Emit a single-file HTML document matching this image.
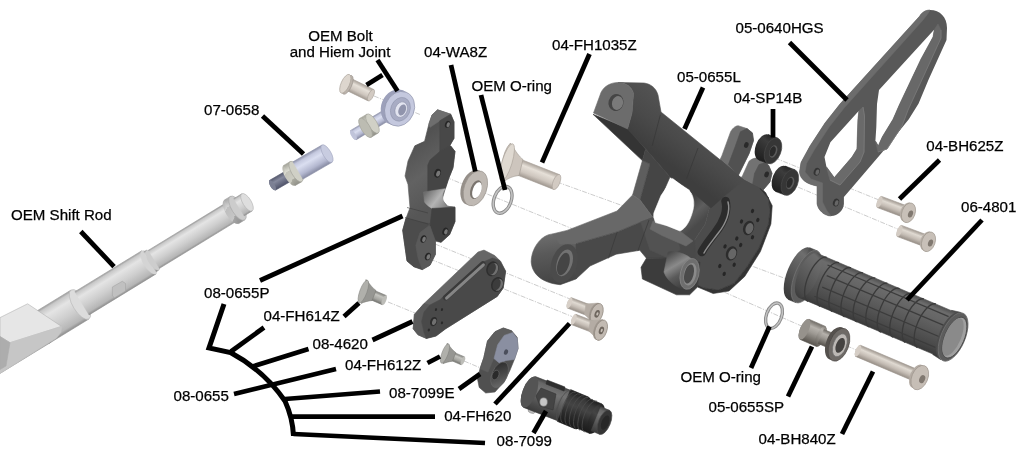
<!DOCTYPE html>
<html><head><meta charset="utf-8"><title>Rearset exploded diagram</title>
<style>
html,body{margin:0;padding:0;background:#fff;}
body{width:1024px;height:458px;overflow:hidden;}
svg{display:block;will-change:transform;}
svg text{font-family:"Liberation Sans",sans-serif;fill:#000;stroke:#000;stroke-width:0.25px;}
</style></head><body>
<svg width="1024" height="458" viewBox="0 0 1024 458">
<defs>
<linearGradient id="g1" gradientUnits="userSpaceOnUse" x1="-28.9" y1="351.2" x2="-11.1" y2="380.2"><stop offset="0" stop-color="#9a9a9a"/><stop offset="0.07" stop-color="#c8c8c8"/><stop offset="0.25" stop-color="#e4e4e4"/><stop offset="0.6" stop-color="#cecece"/><stop offset="0.9" stop-color="#b6b6b6"/><stop offset="1" stop-color="#8e8e8e"/></linearGradient>
<linearGradient id="g2" gradientUnits="userSpaceOnUse" x1="31.1" y1="314.5" x2="48.9" y2="343.5"><stop offset="0" stop-color="#9a9a9a"/><stop offset="0.07" stop-color="#c8c8c8"/><stop offset="0.25" stop-color="#e4e4e4"/><stop offset="0.6" stop-color="#cecece"/><stop offset="0.9" stop-color="#b6b6b6"/><stop offset="1" stop-color="#8e8e8e"/></linearGradient>
<linearGradient id="g3" gradientUnits="userSpaceOnUse" x1="74.9" y1="291.7" x2="89.1" y2="314.9"><stop offset="0" stop-color="#9a9a9a"/><stop offset="0.07" stop-color="#c8c8c8"/><stop offset="0.25" stop-color="#e4e4e4"/><stop offset="0.6" stop-color="#cecece"/><stop offset="0.9" stop-color="#b6b6b6"/><stop offset="1" stop-color="#8e8e8e"/></linearGradient>
<linearGradient id="g4" gradientUnits="userSpaceOnUse" x1="143.9" y1="251.8" x2="156.1" y2="271.6"><stop offset="0" stop-color="#9a9a9a"/><stop offset="0.07" stop-color="#c8c8c8"/><stop offset="0.25" stop-color="#e4e4e4"/><stop offset="0.6" stop-color="#cecece"/><stop offset="0.9" stop-color="#b6b6b6"/><stop offset="1" stop-color="#8e8e8e"/></linearGradient>
<linearGradient id="g5" gradientUnits="userSpaceOnUse" x1="148.5" y1="250.2" x2="159.5" y2="268.3"><stop offset="0" stop-color="#9a9a9a"/><stop offset="0.07" stop-color="#c8c8c8"/><stop offset="0.25" stop-color="#e4e4e4"/><stop offset="0.6" stop-color="#cecece"/><stop offset="0.9" stop-color="#b6b6b6"/><stop offset="1" stop-color="#8e8e8e"/></linearGradient>
<linearGradient id="g6" gradientUnits="userSpaceOnUse" x1="224.3" y1="200.1" x2="238.7" y2="223.6"><stop offset="0" stop-color="#a8a8a8"/><stop offset="0.28" stop-color="#d2d2d2"/><stop offset="0.3" stop-color="#bebebe"/><stop offset="0.68" stop-color="#c6c6c6"/><stop offset="0.7" stop-color="#a4a4a4"/><stop offset="1" stop-color="#939393"/></linearGradient>
<linearGradient id="g7" gradientUnits="userSpaceOnUse" x1="233.8" y1="198.7" x2="244.2" y2="215.8"><stop offset="0" stop-color="#9a9a9a"/><stop offset="0.07" stop-color="#c8c8c8"/><stop offset="0.25" stop-color="#e4e4e4"/><stop offset="0.6" stop-color="#cecece"/><stop offset="0.9" stop-color="#b6b6b6"/><stop offset="1" stop-color="#8e8e8e"/></linearGradient>
<linearGradient id="g8" gradientUnits="userSpaceOnUse" x1="269.6" y1="180.3" x2="275.4" y2="190.2"><stop offset="0" stop-color="#565a6e"/><stop offset="0.35" stop-color="#85899d"/><stop offset="1" stop-color="#50546a"/></linearGradient>
<linearGradient id="g9" gradientUnits="userSpaceOnUse" x1="283.7" y1="165.4" x2="295.3" y2="185.4"><stop offset="0" stop-color="#a4a49a"/><stop offset="0.3" stop-color="#dcdcd2"/><stop offset="0.33" stop-color="#c4c4ba"/><stop offset="0.7" stop-color="#ccccc2"/><stop offset="0.73" stop-color="#aaaaa0"/><stop offset="1" stop-color="#92928a"/></linearGradient>
<linearGradient id="g10" gradientUnits="userSpaceOnUse" x1="293.0" y1="161.8" x2="303.0" y2="179.1"><stop offset="0" stop-color="#8c90a8"/><stop offset="0.15" stop-color="#c4c8de"/><stop offset="0.38" stop-color="#dadef0"/><stop offset="0.75" stop-color="#b4b8d0"/><stop offset="1" stop-color="#868aa2"/></linearGradient>
<linearGradient id="g11" gradientUnits="userSpaceOnUse" x1="352.8" y1="79.3" x2="347.2" y2="90.7"><stop offset="0" stop-color="#aaa29a"/><stop offset="0.3" stop-color="#e6e0d8"/><stop offset="0.7" stop-color="#cec6be"/><stop offset="1" stop-color="#a09890"/></linearGradient>
<linearGradient id="g12" gradientUnits="userSpaceOnUse" x1="350.7" y1="130.4" x2="356.3" y2="139.7"><stop offset="0" stop-color="#8c90a8"/><stop offset="0.15" stop-color="#c4c8de"/><stop offset="0.38" stop-color="#dadef0"/><stop offset="0.75" stop-color="#b4b8d0"/><stop offset="1" stop-color="#868aa2"/></linearGradient>
<linearGradient id="g13" gradientUnits="userSpaceOnUse" x1="370.0" y1="118.3" x2="376.0" y2="128.3"><stop offset="0" stop-color="#8c90a8"/><stop offset="0.15" stop-color="#c4c8de"/><stop offset="0.38" stop-color="#dadef0"/><stop offset="0.75" stop-color="#b4b8d0"/><stop offset="1" stop-color="#868aa2"/></linearGradient>
<linearGradient id="g14" gradientUnits="userSpaceOnUse" x1="359.8" y1="118.4" x2="371.2" y2="137.2"><stop offset="0" stop-color="#a4a49a"/><stop offset="0.3" stop-color="#dcdcd2"/><stop offset="0.33" stop-color="#c4c4ba"/><stop offset="0.7" stop-color="#ccccc2"/><stop offset="0.73" stop-color="#aaaaa0"/><stop offset="1" stop-color="#92928a"/></linearGradient>
<linearGradient id="g15" gradientUnits="userSpaceOnUse" x1="404.0" y1="150.0" x2="440.0" y2="200.0"><stop offset="0" stop-color="#525252"/><stop offset="0.5" stop-color="#626262"/><stop offset="1" stop-color="#565656"/></linearGradient>
<linearGradient id="g16" gradientUnits="userSpaceOnUse" x1="426.0" y1="192.0" x2="452.0" y2="212.0"><stop offset="0" stop-color="#6e6e6e"/><stop offset="0.4" stop-color="#b4b4b4"/><stop offset="0.7" stop-color="#8c8c8c"/><stop offset="1" stop-color="#5a5a5a"/></linearGradient>
<linearGradient id="g17" gradientUnits="userSpaceOnUse" x1="521.9" y1="159.8" x2="516.1" y2="174.6"><stop offset="0" stop-color="#aaa29a"/><stop offset="0.3" stop-color="#e6e0d8"/><stop offset="0.7" stop-color="#cec6be"/><stop offset="1" stop-color="#a09890"/></linearGradient>
<linearGradient id="g18" gradientUnits="userSpaceOnUse" x1="650.0" y1="150.0" x2="680.0" y2="110.0"><stop offset="0" stop-color="#3e3e3e"/><stop offset="0.5" stop-color="#4a4a4a"/><stop offset="1" stop-color="#525252"/></linearGradient>
<linearGradient id="g19" gradientUnits="userSpaceOnUse" x1="545.0" y1="236.0" x2="552.0" y2="284.0"><stop offset="0" stop-color="#6c6c6c"/><stop offset="0.35" stop-color="#5a5a5a"/><stop offset="1" stop-color="#444444"/></linearGradient>
<linearGradient id="g20" gradientUnits="userSpaceOnUse" x1="690.0" y1="195.0" x2="708.0" y2="215.0"><stop offset="0" stop-color="#3a3a3a"/><stop offset="0.6" stop-color="#5e5e5e"/><stop offset="1" stop-color="#4a4a4a"/></linearGradient>
<linearGradient id="g21" gradientUnits="userSpaceOnUse" x1="664.0" y1="256.0" x2="684.0" y2="290.0"><stop offset="0" stop-color="#4a4a4a"/><stop offset="0.35" stop-color="#8a8a8a"/><stop offset="0.6" stop-color="#5a5a5a"/><stop offset="1" stop-color="#3a3a3a"/></linearGradient>
<linearGradient id="g22" gradientUnits="userSpaceOnUse" x1="768.3" y1="134.6" x2="758.7" y2="160.0"><stop offset="0" stop-color="#262626"/><stop offset="0.25" stop-color="#3c3c3c"/><stop offset="0.6" stop-color="#2e2e2e"/><stop offset="1" stop-color="#1e1e1e"/></linearGradient>
<linearGradient id="g23" gradientUnits="userSpaceOnUse" x1="785.2" y1="166.1" x2="775.6" y2="191.5"><stop offset="0" stop-color="#262626"/><stop offset="0.25" stop-color="#3c3c3c"/><stop offset="0.6" stop-color="#2e2e2e"/><stop offset="1" stop-color="#1e1e1e"/></linearGradient>
<linearGradient id="g24" gradientUnits="userSpaceOnUse" x1="881.6" y1="196.4" x2="877.4" y2="207.6"><stop offset="0" stop-color="#a09890"/><stop offset="0.3" stop-color="#e0dad2"/><stop offset="0.65" stop-color="#c4bcb4"/><stop offset="1" stop-color="#968e86"/></linearGradient>
<linearGradient id="g25" gradientUnits="userSpaceOnUse" x1="901.6" y1="225.4" x2="897.4" y2="236.6"><stop offset="0" stop-color="#a09890"/><stop offset="0.3" stop-color="#e0dad2"/><stop offset="0.65" stop-color="#c4bcb4"/><stop offset="1" stop-color="#968e86"/></linearGradient>
<linearGradient id="g26" gradientUnits="userSpaceOnUse" x1="809.7" y1="247.7" x2="788.3" y2="299.5"><stop offset="0" stop-color="#4a4a4a"/><stop offset="0.2" stop-color="#6e6e6e"/><stop offset="0.5" stop-color="#5a5a5a"/><stop offset="1" stop-color="#383838"/></linearGradient>
<linearGradient id="g27" gradientUnits="userSpaceOnUse" x1="817.3" y1="253.4" x2="798.7" y2="297.4"><stop offset="0" stop-color="#4c4c4c"/><stop offset="0.1" stop-color="#6c6c6c"/><stop offset="0.28" stop-color="#666666"/><stop offset="0.6" stop-color="#565656"/><stop offset="0.85" stop-color="#484848"/><stop offset="1" stop-color="#3a3a3a"/></linearGradient>
<linearGradient id="g28" gradientUnits="userSpaceOnUse" x1="808.9" y1="319.2" x2="800.1" y2="339.4"><stop offset="0" stop-color="#716d67"/><stop offset="0.25" stop-color="#b6b2ac"/><stop offset="0.5" stop-color="#9e9a94"/><stop offset="1" stop-color="#57534d"/></linearGradient>
<linearGradient id="g29" gradientUnits="userSpaceOnUse" x1="824.0" y1="329.5" x2="818.0" y2="343.5"><stop offset="0" stop-color="#716d67"/><stop offset="0.25" stop-color="#b6b2ac"/><stop offset="0.5" stop-color="#9e9a94"/><stop offset="1" stop-color="#57534d"/></linearGradient>
<linearGradient id="g30" gradientUnits="userSpaceOnUse" x1="860.4" y1="345.2" x2="855.6" y2="356.4"><stop offset="0" stop-color="#a09890"/><stop offset="0.3" stop-color="#e0dad2"/><stop offset="0.65" stop-color="#c4bcb4"/><stop offset="1" stop-color="#968e86"/></linearGradient>
<linearGradient id="g31" gradientUnits="userSpaceOnUse" x1="373.3" y1="290.0" x2="369.4" y2="299.2"><stop offset="0" stop-color="#7e7e7a"/><stop offset="0.3" stop-color="#c4c4bf"/><stop offset="0.7" stop-color="#a4a49f"/><stop offset="1" stop-color="#747470"/></linearGradient>
<linearGradient id="g32" gradientUnits="userSpaceOnUse" x1="453.5" y1="352.2" x2="450.2" y2="360.1"><stop offset="0" stop-color="#7e7e7a"/><stop offset="0.3" stop-color="#c4c4bf"/><stop offset="0.7" stop-color="#a4a49f"/><stop offset="1" stop-color="#747470"/></linearGradient>
<linearGradient id="g33" gradientUnits="userSpaceOnUse" x1="492.0" y1="366.0" x2="508.0" y2="384.0"><stop offset="0" stop-color="#2e2e2e"/><stop offset="0.5" stop-color="#4a4a4a"/><stop offset="1" stop-color="#6a6a6a"/></linearGradient>
<linearGradient id="g34" gradientUnits="userSpaceOnUse" x1="571.5" y1="297.7" x2="567.5" y2="308.1"><stop offset="0" stop-color="#a09890"/><stop offset="0.3" stop-color="#e0dad2"/><stop offset="0.65" stop-color="#c4bcb4"/><stop offset="1" stop-color="#968e86"/></linearGradient>
<linearGradient id="g35" gradientUnits="userSpaceOnUse" x1="575.8" y1="314.3" x2="571.8" y2="324.7"><stop offset="0" stop-color="#a09890"/><stop offset="0.3" stop-color="#e0dad2"/><stop offset="0.65" stop-color="#c4bcb4"/><stop offset="1" stop-color="#968e86"/></linearGradient>
<linearGradient id="g36" gradientUnits="userSpaceOnUse" x1="535.5" y1="376.6" x2="523.5" y2="407.4"><stop offset="0" stop-color="#444444"/><stop offset="0.12" stop-color="#676767"/><stop offset="0.3" stop-color="#737373"/><stop offset="0.65" stop-color="#575757"/><stop offset="1" stop-color="#3a3a3a"/></linearGradient>
<linearGradient id="g37" gradientUnits="userSpaceOnUse" x1="570.6" y1="389.6" x2="557.4" y2="421.4"><stop offset="0" stop-color="#202020"/><stop offset="0.2" stop-color="#3a3a3a"/><stop offset="0.4" stop-color="#444"/><stop offset="0.7" stop-color="#2a2a2a"/><stop offset="1" stop-color="#1a1a1a"/></linearGradient>
<linearGradient id="g38" gradientUnits="userSpaceOnUse" x1="588.1" y1="398.2" x2="575.9" y2="427.8"><stop offset="0" stop-color="#202020"/><stop offset="0.2" stop-color="#3a3a3a"/><stop offset="0.4" stop-color="#444"/><stop offset="0.7" stop-color="#2a2a2a"/><stop offset="1" stop-color="#1a1a1a"/></linearGradient>
<linearGradient id="g39" gradientUnits="userSpaceOnUse" x1="600.9" y1="406.8" x2="591.1" y2="430.8"><stop offset="0" stop-color="#444444"/><stop offset="0.12" stop-color="#676767"/><stop offset="0.3" stop-color="#737373"/><stop offset="0.65" stop-color="#575757"/><stop offset="1" stop-color="#3a3a3a"/></linearGradient>
</defs>
<line x1="374.0" y1="96.0" x2="420.0" y2="114.5" stroke="#b0b0b0" stroke-width="0.65" stroke-linecap="butt" stroke-dasharray="5 1.3 1.3 1.3"/>
<line x1="438.0" y1="174.0" x2="600.0" y2="240.0" stroke="#b0b0b0" stroke-width="0.65" stroke-linecap="butt" stroke-dasharray="5 1.3 1.3 1.3"/>
<line x1="700.0" y1="281.5" x2="862.0" y2="352.5" stroke="#b0b0b0" stroke-width="0.65" stroke-linecap="butt" stroke-dasharray="5 1.3 1.3 1.3"/>
<line x1="745.0" y1="263.5" x2="792.0" y2="281.0" stroke="#b0b0b0" stroke-width="0.65" stroke-linecap="butt" stroke-dasharray="5 1.3 1.3 1.3"/>
<line x1="557.0" y1="182.0" x2="640.0" y2="212.0" stroke="#b0b0b0" stroke-width="0.65" stroke-linecap="butt" stroke-dasharray="5 1.3 1.3 1.3"/>
<line x1="435.0" y1="244.0" x2="570.0" y2="299.0" stroke="#b0b0b0" stroke-width="0.65" stroke-linecap="butt" stroke-dasharray="5 1.3 1.3 1.3"/>
<line x1="430.0" y1="259.0" x2="572.0" y2="316.5" stroke="#b0b0b0" stroke-width="0.65" stroke-linecap="butt" stroke-dasharray="5 1.3 1.3 1.3"/>
<line x1="388.0" y1="302.0" x2="415.0" y2="313.0" stroke="#b0b0b0" stroke-width="0.65" stroke-linecap="butt" stroke-dasharray="5 1.3 1.3 1.3"/>
<line x1="464.0" y1="361.0" x2="483.0" y2="369.0" stroke="#b0b0b0" stroke-width="0.65" stroke-linecap="butt" stroke-dasharray="5 1.3 1.3 1.3"/>
<line x1="775.0" y1="158.0" x2="879.0" y2="200.0" stroke="#b0b0b0" stroke-width="0.65" stroke-linecap="butt" stroke-dasharray="5 1.3 1.3 1.3"/>
<line x1="790.0" y1="183.8" x2="898.0" y2="229.2" stroke="#b0b0b0" stroke-width="0.65" stroke-linecap="butt" stroke-dasharray="5 1.3 1.3 1.3"/>
<ellipse cx="-20.0" cy="365.7" rx="7.1" ry="17.0" transform="rotate(-31.5 -20.0 365.7)" fill="url(#g1)"/>
<path d="M-28.9,351.2 L33.1,313.3 L50.9,342.3 L-11.1,380.2Z" fill="url(#g1)" stroke="url(#g1)" stroke-width="0.6" stroke-linejoin="round" />
<ellipse cx="42.0" cy="327.8" rx="7.1" ry="17.0" transform="rotate(-31.5 42.0 327.8)" fill="url(#g1)"/>
<path d="M31.1,314.5 L71.1,290.0 L88.9,319.0 L48.9,343.5Z" fill="url(#g2)" stroke="url(#g2)" stroke-width="0.6" stroke-linejoin="round" />
<ellipse cx="80.0" cy="304.5" rx="7.1" ry="17.0" transform="rotate(-31.5 80.0 304.5)" fill="#dcdcdc" stroke="#b8b8b8" stroke-width="0.6"/>
<path d="M74.9,291.7 L141.9,250.7 L156.1,273.9 L89.1,314.9Z" fill="url(#g3)" stroke="url(#g3)" stroke-width="0.6" stroke-linejoin="round" />
<ellipse cx="149.0" cy="262.3" rx="5.7" ry="13.6" transform="rotate(-31.5 149.0 262.3)" fill="#d4d4d4"/>
<path d="M143.9,251.8 L146.9,250.0 L159.1,269.8 L156.1,271.6Z" fill="url(#g4)" stroke="url(#g4)" stroke-width="0.6" stroke-linejoin="round" />
<ellipse cx="153.0" cy="259.9" rx="4.9" ry="11.6" transform="rotate(-31.5 153.0 259.9)" fill="#cdcdcd"/>
<path d="M148.5,250.2 L226.5,202.5 L237.5,220.6 L159.5,268.3Z" fill="url(#g5)" stroke="url(#g5)" stroke-width="0.6" stroke-linejoin="round" />
<ellipse cx="232.0" cy="211.5" rx="4.5" ry="10.6" transform="rotate(-31.5 232.0 211.5)" fill="url(#g5)"/>
<ellipse cx="231.5" cy="211.8" rx="5.8" ry="13.8" transform="rotate(-31.5 231.5 211.8)" fill="url(#g6)"/>
<path d="M224.3,200.1 L230.3,196.4 L244.7,219.9 L238.7,223.6Z" fill="url(#g6)" stroke="url(#g6)" stroke-width="0.6" stroke-linejoin="round" />
<ellipse cx="237.5" cy="208.2" rx="5.8" ry="13.8" transform="rotate(-31.5 237.5 208.2)" fill="#cccccc" stroke="#a8a8a8" stroke-width="0.6"/>
<path d="M233.8,198.7 L241.8,193.8 L252.2,210.9 L244.2,215.8Z" fill="url(#g7)" stroke="url(#g7)" stroke-width="0.6" stroke-linejoin="round" />
<ellipse cx="247.0" cy="202.3" rx="4.2" ry="10.0" transform="rotate(-31.5 247.0 202.3)" fill="#dedede" stroke="#b4b4b4" stroke-width="0.6"/>
<path d="M0.0,317.6 L27.6,303.8 L61.5,326.4 L10.0,342.7 L0.0,336.5Z" fill="#e6e6e6" stroke="#b4b4b4" stroke-width="0.6" stroke-linejoin="round" />
<path d="M10.0,342.7 L61.5,326.4 L61.0,332.0 L56.5,338.0 L0.0,373.5 L0.0,350.0Z" fill="#c6c6c6" stroke="#c6c6c6" stroke-width="0.6" stroke-linejoin="round" />
<path d="M0.0,336.5 L10.0,342.7 L6.0,366.0 L0.0,369.5Z" fill="#adadad" stroke="#adadad" stroke-width="0.6" stroke-linejoin="round" />
<path d="M112.4,287.0 L122.3,281.3 L125.5,283.5 L125.5,291.0 L114.6,297.7 L112.4,296.0Z" fill="#c0c0c0" stroke="#a4a4a4" stroke-width="0.6" stroke-linejoin="round" />
<ellipse cx="272.5" cy="185.3" rx="2.3" ry="5.7" transform="rotate(-30.2 272.5 185.3)" fill="url(#g8)"/>
<path d="M269.6,180.3 L288.1,169.6 L293.9,179.5 L275.4,190.2Z" fill="url(#g8)" stroke="url(#g8)" stroke-width="0.6" stroke-linejoin="round" />
<ellipse cx="291.0" cy="174.5" rx="2.3" ry="5.7" transform="rotate(-30.2 291.0 174.5)" fill="url(#g8)"/>
<ellipse cx="272.5" cy="185.3" rx="2.3" ry="5.7" transform="rotate(-30.2 272.5 185.3)" fill="#7c8094"/>
<ellipse cx="289.5" cy="175.4" rx="4.6" ry="11.6" transform="rotate(-30.2 289.5 175.4)" fill="url(#g9)"/>
<path d="M283.7,165.4 L290.2,161.6 L301.8,181.7 L295.3,185.4Z" fill="url(#g9)" stroke="url(#g9)" stroke-width="0.6" stroke-linejoin="round" />
<ellipse cx="296.0" cy="171.6" rx="4.6" ry="11.6" transform="rotate(-30.2 296.0 171.6)" fill="#d0d0c6" stroke="#a4a49a" stroke-width="0.6"/>
<path d="M293.0,161.8 L322.0,145.0 L332.0,162.3 L303.0,179.1Z" fill="url(#g10)" stroke="url(#g10)" stroke-width="0.6" stroke-linejoin="round" />
<ellipse cx="327.0" cy="153.6" rx="4.0" ry="10.0" transform="rotate(-30.2 327.0 153.6)" fill="#c8cce0" stroke="#a4a8c0" stroke-width="0.6"/>
<ellipse cx="350.0" cy="85.0" rx="2.5" ry="6.3" transform="rotate(25.9 350.0 85.0)" fill="url(#g11)"/>
<path d="M352.8,79.3 L373.8,89.5 L368.2,100.9 L347.2,90.7Z" fill="url(#g11)" stroke="url(#g11)" stroke-width="0.6" stroke-linejoin="round" />
<ellipse cx="371.0" cy="95.2" rx="2.5" ry="6.3" transform="rotate(25.9 371.0 95.2)" fill="#d2cac2" stroke="#aaa29a" stroke-width="0.6"/>
<ellipse cx="347.5" cy="84.8" rx="4.2" ry="10.2" transform="rotate(24.0 347.5 84.8)" fill="#bcb4ac" stroke="#98908a" stroke-width="0.6"/>
<ellipse cx="345.3" cy="83.8" rx="4.2" ry="10.2" transform="rotate(24.0 345.3 83.8)" fill="#ddd6ce" stroke="#a8a098" stroke-width="0.6"/>
<ellipse cx="353.5" cy="135.1" rx="2.2" ry="5.4" transform="rotate(-31.1 353.5 135.1)" fill="url(#g12)"/>
<path d="M350.7,130.4 L363.2,122.9 L368.8,132.1 L356.3,139.7Z" fill="url(#g12)" stroke="url(#g12)" stroke-width="0.6" stroke-linejoin="round" />
<ellipse cx="366.0" cy="127.5" rx="2.2" ry="5.4" transform="rotate(-31.1 366.0 127.5)" fill="url(#g12)"/>
<ellipse cx="353.5" cy="135.1" rx="2.2" ry="5.4" transform="rotate(-31.1 353.5 135.1)" fill="#c0c4da"/>
<ellipse cx="373.0" cy="123.3" rx="2.3" ry="5.8" transform="rotate(-31.1 373.0 123.3)" fill="url(#g13)"/>
<path d="M370.0,118.3 L389.0,106.9 L395.0,116.8 L376.0,128.3Z" fill="url(#g13)" stroke="url(#g13)" stroke-width="0.6" stroke-linejoin="round" />
<ellipse cx="392.0" cy="111.8" rx="2.3" ry="5.8" transform="rotate(-31.1 392.0 111.8)" fill="url(#g13)"/>
<ellipse cx="365.5" cy="127.8" rx="4.4" ry="11.0" transform="rotate(-31.1 365.5 127.8)" fill="url(#g14)"/>
<path d="M359.8,118.4 L366.8,114.2 L378.2,133.0 L371.2,137.2Z" fill="url(#g14)" stroke="url(#g14)" stroke-width="0.6" stroke-linejoin="round" />
<ellipse cx="372.5" cy="123.6" rx="4.4" ry="11.0" transform="rotate(-31.1 372.5 123.6)" fill="#d0d0c6" stroke="#a4a49a" stroke-width="0.6"/>
<ellipse cx="365.5" cy="127.8" rx="4.4" ry="11.0" transform="rotate(-31.1 365.5 127.8)" fill="#bcbcb2" stroke="#a4a49a" stroke-width="0.6"/>
<ellipse cx="396.2" cy="107.2" rx="15.0" ry="18.2" transform="rotate(22.0 396.2 107.2)" fill="#9ca0ba"/>
<ellipse cx="399.6" cy="108.8" rx="14.6" ry="17.8" transform="rotate(22.0 399.6 108.8)" fill="#c4c8de" stroke="#8c90a8" stroke-width="0.6"/>
<ellipse cx="400.4" cy="109.3" rx="9.6" ry="12.2" transform="rotate(22.0 400.4 109.3)" fill="#a8acc4" stroke="#8a8ea6" stroke-width="0.5"/>
<ellipse cx="401.2" cy="109.6" rx="6.0" ry="8.0" transform="rotate(22.0 401.2 109.6)" fill="#e2e4f0" stroke="#8a8ea6" stroke-width="0.5"/>
<ellipse cx="402.2" cy="110.0" rx="3.6" ry="5.8" transform="rotate(22.0 402.2 110.0)" fill="#9094ac"/>
<path d="M428.9,124 L432,115 L437.6,109.8 L450.7,114.2 L454,121.9 L454,138.3 L449.6,145.9 L450.7,146 L455,151.4 L453,167.8 L448.6,178.7 L445.3,188.7 L442,199.7 L447.5,206.2 L455,207.3 L455,221.5 L449.6,234.6 L441,242.3 L435.4,241.2 L435.4,254.3 L430,265.2 L422.3,269.6 L413.8,266.7 L407,260.9 L402.7,230.3 L406,218.3 L410,207.7 L408,184.4 L405,176 L408,161 L414.7,146 L424.5,141.5Z" fill="url(#g15)" stroke="url(#g15)" stroke-width="0.6" />
<path d="M402.7,230.3 L406,218.3 L420,222 L430,223.7 L420,232.5 L415.8,245.6 L422.3,269.6 L413.8,266.7 L407,260.9Z" fill="#4c4c4c" stroke="#4c4c4c" stroke-width="0.6" />
<path d="M428.9,124 L432,115 L437.6,109.8 L450.7,114.2 L439.8,120.8 L430,127.3Z" fill="#6e6e6e" stroke="#6e6e6e" stroke-width="0.6" />
<path d="M439.8,120.8 L450.7,114.2 L454,121.9 L454,138.3 L449.6,145.9 L439.8,151.4Z" fill="#484848" stroke="#484848" stroke-width="0.6" />
<path d="M430,160 L439.8,151.4 L449.6,145.9 L450.7,146 L455,151.4 L453,167.8 L448.6,178.7 L445.3,188.7 L427.8,191.8 L427.8,165Z" fill="#454545" stroke="#454545" stroke-width="0.6" />
<path d="M423.4,192 L445.3,188.7 C441,194 442,202 447.5,206.2 L455,207.3 L432,208.4 C428,206 425,203 424.5,201.9Z" fill="url(#g16)" stroke="url(#g16)" stroke-width="0.6" />
<path d="M432,208.4 L455,207.3 L455,221.5 L449.6,234.6 L441,242.3 L435.4,240 L430,226Z" fill="#414141" stroke="#414141" stroke-width="0.6" />
<path d="M420,232.5 L427.8,227 L430,226 L435.4,241.2 L435.4,254.3 L430,265.2 L422.3,269.6 L418,258 L415.8,245.6Z" fill="#5a5a5a" stroke="#5a5a5a" stroke-width="0.6" />
<line x1="407.0" y1="207.5" x2="428.0" y2="213.0" stroke="#3c3c3c" stroke-width="0.6" stroke-linecap="butt" />
<line x1="405.0" y1="217.5" x2="428.0" y2="224.0" stroke="#3c3c3c" stroke-width="0.6" stroke-linecap="butt" />
<line x1="414.7" y1="146.0" x2="424.5" y2="141.5" stroke="#444" stroke-width="0.6" stroke-linecap="butt" />
<ellipse cx="447.6" cy="124.3" rx="2.6" ry="3.6" transform="rotate(20.0 447.6 124.3)" fill="#262626"/>
<ellipse cx="448.2" cy="124.7" rx="1.6" ry="2.5" transform="rotate(20.0 448.2 124.7)" fill="#777"/>
<ellipse cx="437.6" cy="173.2" rx="3.2" ry="4.5" transform="rotate(20.0 437.6 173.2)" fill="#262626"/>
<ellipse cx="438.2" cy="173.6" rx="1.9" ry="3.0" transform="rotate(20.0 438.2 173.6)" fill="#777"/>
<ellipse cx="445.3" cy="231.4" rx="2.8" ry="3.9" transform="rotate(20.0 445.3 231.4)" fill="#262626"/>
<ellipse cx="445.9" cy="231.8" rx="1.7" ry="2.7" transform="rotate(20.0 445.9 231.8)" fill="#777"/>
<ellipse cx="423.4" cy="239.0" rx="2.8" ry="3.9" transform="rotate(20.0 423.4 239.0)" fill="#262626"/>
<ellipse cx="424.0" cy="239.4" rx="1.7" ry="2.7" transform="rotate(20.0 424.0 239.4)" fill="#777"/>
<ellipse cx="427.8" cy="256.5" rx="2.8" ry="3.9" transform="rotate(20.0 427.8 256.5)" fill="#262626"/>
<ellipse cx="428.4" cy="256.9" rx="1.7" ry="2.7" transform="rotate(20.0 428.4 256.9)" fill="#777"/>
<ellipse cx="472.6" cy="187.3" rx="11.2" ry="18.2" transform="rotate(20.0 472.6 187.3)" fill="#958f89"/>
<ellipse cx="475.4" cy="188.4" rx="11.2" ry="18.2" transform="rotate(20.0 475.4 188.4)" fill="#bfb9b3" stroke="#958f89" stroke-width="0.6"/>
<ellipse cx="476.0" cy="189.6" rx="5.4" ry="9.8" transform="rotate(20.0 476.0 189.6)" fill="#7a746e"/>
<ellipse cx="477.0" cy="190.2" rx="4.2" ry="8.4" transform="rotate(20.0 477.0 190.2)" fill="#fff"/>
<ellipse cx="502.6" cy="199.8" rx="8.6" ry="14.0" transform="rotate(20.0 502.6 199.8)" fill="none" stroke="#8a8a8a" stroke-width="3.4"/>
<ellipse cx="502.6" cy="199.8" rx="8.6" ry="14.0" transform="rotate(20.0 502.6 199.8)" fill="none" stroke="#c4c4c4" stroke-width="1.5"/>
<ellipse cx="519.0" cy="167.2" rx="3.4" ry="8.0" transform="rotate(21.5 519.0 167.2)" fill="url(#g17)"/>
<path d="M521.9,159.8 L559.4,174.6 L553.6,189.4 L516.1,174.6Z" fill="url(#g17)" stroke="url(#g17)" stroke-width="0.6" stroke-linejoin="round" />
<ellipse cx="556.5" cy="182.0" rx="3.4" ry="8.0" transform="rotate(21.5 556.5 182.0)" fill="#d2cac2" stroke="#aaa29a" stroke-width="0.6"/>
<path d="M510.5,143 C516,152 519.5,157 523,159.5 L519,175.5 C513.5,176 508,178 503.5,182 C499.5,174 501.5,152 510.5,143Z" fill="#cdc5bd" stroke="#a09890" stroke-width="0.6" />
<ellipse cx="507.0" cy="162.5" rx="5.0" ry="19.5" transform="rotate(17.0 507.0 162.5)" fill="#dfd9d1" stroke="#aaa29a" stroke-width="0.6"/>
<path d="M716,168 L721.8,155.9 L730.6,131.8 C733,127.5 736,125.7 738.2,125.7 L747,128.6 L752.4,132.9 L753.5,140.6 L749,153.7 L738.2,175.5 L736,186 L720,184Z" fill="#707070" stroke="#707070" stroke-width="0.6" />
<path d="M740.4,131.8 L747,128.6 L752.4,132.9 L753.5,140.6 L749,153.7 L738.2,175.5 L728.4,164.6 L735,147Z" fill="#515151" stroke="#515151" stroke-width="0.6" />
<ellipse cx="746.3" cy="145.0" rx="2.2" ry="3.0" transform="rotate(20.0 746.3 145.0)" fill="#2a2a2a"/>
<path d="M736,186 L742.6,175.5 L749,161.3 C752,158.5 755,158 756.8,158 L765.5,162.4 L768.8,165.7 L772,173.3 L769.9,182 L763.3,189.7 L768,199 L750,200Z" fill="#727272" stroke="#727272" stroke-width="0.6" />
<path d="M759,164.6 L765.5,162.4 L768.8,165.7 L772,173.3 L769.9,182 L763.3,189.7 L752.4,185.3 L754.6,173.3Z" fill="#545454" stroke="#545454" stroke-width="0.6" />
<ellipse cx="766.6" cy="174.4" rx="2.2" ry="3.0" transform="rotate(20.0 766.6 174.4)" fill="#2a2a2a"/>
<path d="M593,114.3 L628.4,128.7 L645.6,149 L642.4,160.6Z" fill="#343434" stroke="#343434" stroke-width="0.6" />
<path d="M642.4,160.6 L650,164 L640,200 L632.6,195Z" fill="#5e5e5e" stroke="#5e5e5e" stroke-width="0.6" />
<path d="M645.6,149 L670,177 L660.8,197.9 L653,217.5 L640,200 L650,164 L642.4,160.6Z" fill="#454545" stroke="#454545" stroke-width="0.6" />
<path d="M627.5,129 L632,113 L633.5,93.5 C632,87 626,82.5 618,82.5 L644,83 C651,84 656,88 658,95 L661,112 L721,160.5 L743.8,180 L760,188.4 L768.4,198 L711,208 L690,190 L670,177 L645.6,149Z" fill="url(#g18)" stroke="url(#g18)" stroke-width="0.6" />
<line x1="660.4" y1="114.7" x2="652.2" y2="145.8" stroke="#363636" stroke-width="0.7" stroke-linecap="butt" />
<line x1="698.0" y1="148.0" x2="686.6" y2="178.5" stroke="#363636" stroke-width="0.7" stroke-linecap="butt" />
<path d="M593.5,113 L601,92.5 C604,86 611,82.5 618,82.5 C626,82.5 632,87 633.5,93.5 L632,113 L627.5,129Z" fill="#6c6c6c" stroke="#6c6c6c" stroke-width="0.6" />
<ellipse cx="616.0" cy="102.5" rx="7.5" ry="8.5" transform="rotate(15.0 616.0 102.5)" fill="#454545"/>
<ellipse cx="617.5" cy="103.0" rx="5.5" ry="7.0" transform="rotate(15.0 617.5 103.0)" fill="#7a7a7a"/>
<path d="M552.3,234 C540,235 531,250 531.2,262 C532,274 542,283 560.2,284.7 L576,279 L576,243.7 L560.2,237.5Z" fill="url(#g19)" stroke="url(#g19)" stroke-width="0.6" />
<path d="M552.3,234 L567,230.4 L617,211 L632.6,195 L640,200 L653,217.5 L640.8,222 L617.2,231.9 L576,243.7 L560,244Z" fill="#686868" stroke="#686868" stroke-width="0.6" />
<path d="M576,243.7 L617.2,231.9 L640.8,222 L653,217.5 L666,233.3 L676.5,233.3 L687,221.5 L694.8,239.8 L700,262 L680,262 L668,258 L646.4,258.2 L639.8,250.3 L616.2,254.2 L590,266 L576,279Z" fill="#494949" stroke="#494949" stroke-width="0.6" />
<path d="M640.8,222 L653,217.5 L666,233.3 L676.5,233.3 L680,250 L668,258 L650,250Z" fill="#525252" stroke="#525252" stroke-width="0.6" />
<line x1="617.2" y1="231.9" x2="608.4" y2="258.4" stroke="#383838" stroke-width="0.7" stroke-linecap="butt" />
<line x1="649.0" y1="220.0" x2="637.8" y2="251.0" stroke="#383838" stroke-width="0.7" stroke-linecap="butt" />
<path d="M690,190 L705.3,195.2 L709.3,208.3 L705.3,224 L694.8,239.8 L676.5,233.3 L687,221.5 L693.5,205.7Z" fill="url(#g20)" stroke="url(#g20)" stroke-width="0.6" />
<path d="M690,190 L711,208 L743.8,180 L760,188.4 L768.4,198 L770,211 L768.3,224.5 L759,248 L747.3,266.4 L734,283.4 L718.5,290 L704,288 L697.5,285 L694.8,239.8 L705.3,224 L709.3,208.3 L705.3,195.2Z" fill="#4c4c4c" stroke="#4c4c4c" stroke-width="0.6" />
<path d="M690,190 L711,208 L726,194 L743.8,180 L721,160.5 L700,172Z" fill="url(#g18)" stroke="url(#g18)" stroke-width="0.6" />
<path d="M765.6,192.6 L772.2,205.7 L770.9,224 L760.4,251.6 L744.7,276.5 L729,291 L713.2,293.5 L697.5,287 L697.5,285 L704,288 L718.5,290 L734,283.4 L747.3,266.4 L759,248 L768.3,224.5 L770,211 L768.4,198 L760,188.4Z" fill="#333333" stroke="#333333" stroke-width="0.6" />
<path d="M641,267.3 L646.4,258.2 L668,258 L680,262 L700,262 L697.5,287 L689.6,294.8 L676.5,294.8 L642.4,279Z" fill="#3c3c3c" stroke="#3c3c3c" stroke-width="0.6" />
<ellipse cx="564.2" cy="263.6" rx="12.8" ry="20.0" transform="rotate(18.0 564.2 263.6)" fill="#4b4b4b"/>
<ellipse cx="564.6" cy="262.8" rx="7.6" ry="13.8" transform="rotate(18.0 564.6 262.8)" fill="#727272"/>
<ellipse cx="563.4" cy="264.0" rx="5.6" ry="11.6" transform="rotate(18.0 563.4 264.0)" fill="#454545"/>
<path d="M668,252 C676,250 690,255 694,262 L692,290 C684,292 668,284 664,272Z" fill="url(#g21)" stroke="url(#g21)" stroke-width="0.6" />
<ellipse cx="689.6" cy="273.9" rx="9.2" ry="15.7" transform="rotate(14.0 689.6 273.9)" fill="#6e6e6e" stroke="#8a8a8a" stroke-width="0.7"/>
<ellipse cx="690.0" cy="274.2" rx="6.2" ry="11.5" transform="rotate(14.0 690.0 274.2)" fill="#8a8a8a"/>
<ellipse cx="689.0" cy="274.0" rx="4.6" ry="9.8" transform="rotate(14.0 689.0 274.0)" fill="#4a4a4a"/>
<path d="M725.5,201 C728,210 724,222 715.8,232 C709,241 704,247 701.8,252" fill="none" stroke="#2c2c2c" stroke-width="8.5" stroke-linecap="round"/>
<path d="M728,202 C730.5,211 726.5,223 718.3,233 C711.5,242 706.5,248 704,253" fill="none" stroke="#8e8e8e" stroke-width="1.5" stroke-linecap="round"/>
<ellipse cx="748.6" cy="228.0" rx="5.4" ry="7.4" transform="rotate(20.0 748.6 228.0)" fill="#2c2c2c"/>
<ellipse cx="749.4" cy="228.5" rx="3.8" ry="5.6" transform="rotate(20.0 749.4 228.5)" fill="#666"/>
<ellipse cx="731.5" cy="253.4" rx="5.4" ry="7.4" transform="rotate(20.0 731.5 253.4)" fill="#2c2c2c"/>
<ellipse cx="732.3" cy="253.9" rx="3.8" ry="5.6" transform="rotate(20.0 732.3 253.9)" fill="#666"/>
<ellipse cx="752.5" cy="211.0" rx="1.6" ry="2.2" transform="rotate(20.0 752.5 211.0)" fill="#262626"/>
<ellipse cx="741.5" cy="221.5" rx="1.6" ry="2.2" transform="rotate(20.0 741.5 221.5)" fill="#262626"/>
<ellipse cx="757.8" cy="220.0" rx="1.6" ry="2.2" transform="rotate(20.0 757.8 220.0)" fill="#262626"/>
<ellipse cx="736.8" cy="238.5" rx="1.6" ry="2.2" transform="rotate(20.0 736.8 238.5)" fill="#262626"/>
<ellipse cx="752.5" cy="237.2" rx="1.6" ry="2.2" transform="rotate(20.0 752.5 237.2)" fill="#262626"/>
<ellipse cx="725.0" cy="246.4" rx="1.6" ry="2.2" transform="rotate(20.0 725.0 246.4)" fill="#262626"/>
<ellipse cx="740.7" cy="245.0" rx="1.6" ry="2.2" transform="rotate(20.0 740.7 245.0)" fill="#262626"/>
<ellipse cx="719.8" cy="266.0" rx="1.6" ry="2.2" transform="rotate(20.0 719.8 266.0)" fill="#262626"/>
<ellipse cx="734.2" cy="264.7" rx="1.6" ry="2.2" transform="rotate(20.0 734.2 264.7)" fill="#262626"/>
<ellipse cx="724.2" cy="273.9" rx="1.6" ry="2.2" transform="rotate(20.0 724.2 273.9)" fill="#262626"/>
<path d="M653,221 L680,231 L693,241 L686,246 L662,235.5 L650,229Z" fill="#6a6a6a" stroke="#6a6a6a" stroke-width="0.6" />
<path d="M672.6,178.5 L691,192.7 C694,198 694.5,204 693,210 C690,222 685,229 680,231 L667,225.6 L655.6,222.6 C653.5,218 653.5,214 654,212.6 L661,195.6Z" fill="#fff" stroke="#fff" stroke-width="0.6" />
<ellipse cx="763.5" cy="147.3" rx="7.9" ry="13.6" transform="rotate(20.8 763.5 147.3)" fill="url(#g22)"/>
<path d="M768.3,134.6 L777.8,138.2 L768.2,163.6 L758.7,160.0Z" fill="url(#g22)" stroke="url(#g22)" stroke-width="0.6" stroke-linejoin="round" />
<ellipse cx="773.0" cy="150.9" rx="7.9" ry="13.6" transform="rotate(20.8 773.0 150.9)" fill="#363636" stroke="#4a4a4a" stroke-width="0.6"/>
<ellipse cx="773.3" cy="151.5" rx="3.8" ry="6.4" transform="rotate(20.0 773.3 151.5)" fill="#5a5a5a"/>
<ellipse cx="772.7" cy="151.3" rx="2.8" ry="5.2" transform="rotate(20.0 772.7 151.3)" fill="#2a2a2a"/>
<ellipse cx="780.4" cy="178.8" rx="7.9" ry="13.6" transform="rotate(20.8 780.4 178.8)" fill="url(#g23)"/>
<path d="M785.2,166.1 L794.7,169.7 L785.1,195.1 L775.6,191.5Z" fill="url(#g23)" stroke="url(#g23)" stroke-width="0.6" stroke-linejoin="round" />
<ellipse cx="789.9" cy="182.4" rx="7.9" ry="13.6" transform="rotate(20.8 789.9 182.4)" fill="#363636" stroke="#4a4a4a" stroke-width="0.6"/>
<ellipse cx="790.2" cy="183.0" rx="3.8" ry="6.4" transform="rotate(20.0 790.2 183.0)" fill="#5a5a5a"/>
<ellipse cx="789.6" cy="182.8" rx="2.8" ry="5.2" transform="rotate(20.0 789.6 182.8)" fill="#2a2a2a"/>
<path d="M919.6,16.2 C922,12 926,10 930,10 C940,10 947,17 947,28 L946.5,40 L928.4,80 L918.6,103.6 L908.8,119.3 L882,152.5 L853.4,186 L843.9,197 L843.9,204 C843.5,210 838,216 831.2,216 C824,216 818,210 817,203.6 L817,186 C808,184.5 800,180 799.5,172 L801,162.4 L810,146 L825,123 L840,104 Z M934.3,29.5 L933,37 L921,59 L899,105.5 L893,119.3 L882.2,137 L878.3,145.8 L875.4,141 L876.3,127.2 L877,104 L879,90 Z M858.9,110.8 L830.4,142.2 L824.5,157 L826.4,166.8 L834.3,177.6 L852,157 L856.9,149.1 L857.9,119.6 Z" fill="#585858" fill-rule="evenodd"/>
<path d="M934.3,29.5 L933,37 L921,59 L899,105.5 L893,119.3 L882.2,137 L878.3,145.8 L875.4,141 L878,152 L887,149 L902,126 L908,110 L930,62 L941,38 L941,30 L938,24Z" fill="#686868" stroke="#686868" stroke-width="0.6" />
<path d="M858.9,110.8 L857.9,119.6 L856.9,149.1 L852,157 L834.3,177.6 L826.4,166.8 L830,180 L840,185 L860,162 L864,152 L864.5,116 L863,107Z" fill="#6a6a6a" stroke="#6a6a6a" stroke-width="0.6" />
<path d="M941,30 L941,38 L930,62 L908,110 L902,126 L887,149 L878,152" fill="none" stroke="#7a7a7a" stroke-width="0.8" />
<path d="M863,107 L864.5,116 L864,152 L860,162 L840,185 L830,180" fill="none" stroke="#7c7c7c" stroke-width="0.8" />
<path d="M919.6,16.2 L840,104 L825,123 L810,146 L801,162.4 L799.5,172 C800,180 808,184.5 817,186 L817,203.6 C818,210 824,216 831.2,216 L827,211 L822.5,202 L822.5,183 L811,179 L805,172 L806.5,163.5 L814.5,149.5 L829.5,126.5 L844.5,107.5 L923,20 L928,13.5 L930,10 C926,10 922,12 919.6,16.2Z" fill="#6c6c6c" stroke="#6c6c6c" stroke-width="0.6" />
<ellipse cx="816.8" cy="171.8" rx="3.0" ry="4.0" transform="rotate(20.0 816.8 171.8)" fill="#333"/>
<ellipse cx="817.4" cy="172.2" rx="1.8" ry="2.8" transform="rotate(20.0 817.4 172.2)" fill="#666"/>
<ellipse cx="836.0" cy="202.6" rx="3.0" ry="4.0" transform="rotate(20.0 836.0 202.6)" fill="#333"/>
<ellipse cx="836.6" cy="203.0" rx="1.8" ry="2.8" transform="rotate(20.0 836.6 203.0)" fill="#666"/>
<ellipse cx="879.5" cy="202.0" rx="2.4" ry="6.0" transform="rotate(20.5 879.5 202.0)" fill="url(#g24)"/>
<path d="M881.6,196.4 L904.6,205.0 L900.4,216.2 L877.4,207.6Z" fill="url(#g24)" stroke="url(#g24)" stroke-width="0.6" stroke-linejoin="round" />
<ellipse cx="902.5" cy="210.6" rx="2.4" ry="6.0" transform="rotate(20.5 902.5 210.6)" fill="url(#g24)"/>
<ellipse cx="879.5" cy="202.0" rx="2.4" ry="6.0" transform="rotate(20.5 879.5 202.0)" fill="#d4ccc4"/>
<ellipse cx="906.7" cy="212.2" rx="6.2" ry="10.0" transform="rotate(20.0 906.7 212.2)" fill="#b8b0a8"/>
<ellipse cx="908.5" cy="212.8" rx="6.6" ry="10.2" transform="rotate(20.0 908.5 212.8)" fill="#c8c0b8" stroke="#9a928a" stroke-width="0.6"/>
<ellipse cx="910.5" cy="214.0" rx="2.4" ry="3.6" transform="rotate(20.0 910.5 214.0)" fill="#807870"/>
<ellipse cx="899.5" cy="231.0" rx="2.4" ry="6.0" transform="rotate(20.5 899.5 231.0)" fill="url(#g25)"/>
<path d="M901.6,225.4 L924.6,234.0 L920.4,245.2 L897.4,236.6Z" fill="url(#g25)" stroke="url(#g25)" stroke-width="0.6" stroke-linejoin="round" />
<ellipse cx="922.5" cy="239.6" rx="2.4" ry="6.0" transform="rotate(20.5 922.5 239.6)" fill="url(#g25)"/>
<ellipse cx="899.5" cy="231.0" rx="2.4" ry="6.0" transform="rotate(20.5 899.5 231.0)" fill="#d4ccc4"/>
<ellipse cx="926.7" cy="241.2" rx="6.2" ry="10.0" transform="rotate(20.0 926.7 241.2)" fill="#b8b0a8"/>
<ellipse cx="928.5" cy="241.8" rx="6.6" ry="10.2" transform="rotate(20.0 928.5 241.8)" fill="#c8c0b8" stroke="#9a928a" stroke-width="0.6"/>
<ellipse cx="930.5" cy="243.0" rx="2.4" ry="3.6" transform="rotate(20.0 930.5 243.0)" fill="#807870"/>
<ellipse cx="799.0" cy="273.6" rx="11.8" ry="28.0" transform="rotate(22.5 799.0 273.6)" fill="url(#g26)"/>
<path d="M809.7,247.7 L817.2,250.8 L795.8,302.6 L788.3,299.5Z" fill="url(#g26)" stroke="url(#g26)" stroke-width="0.6" stroke-linejoin="round" />
<ellipse cx="806.5" cy="276.7" rx="11.8" ry="28.0" transform="rotate(22.5 806.5 276.7)" fill="#5c5c5c" stroke="#7a7a7a" stroke-width="0.6"/>
<path d="M817.3,253.4 L959.7,314.2 L941.3,357.6 L798.7,297.4Z" fill="url(#g27)" stroke="url(#g27)" stroke-width="0.6" stroke-linejoin="round" />
<ellipse cx="808.0" cy="275.4" rx="10.0" ry="23.9" transform="rotate(23.0 808.0 275.4)" fill="url(#g27)"/>
<path d="M826.7,257.4 A10.0,23.9 23.0 0 0 808.1,301.4" fill="none" stroke="#3a3a3a" stroke-width="1.3"/>
<path d="M838.9,262.6 A10.0,23.9 23.0 0 0 820.2,306.5" fill="none" stroke="#3a3a3a" stroke-width="1.3"/>
<path d="M851.0,267.8 A10.0,23.8 23.0 0 0 832.4,311.6" fill="none" stroke="#3a3a3a" stroke-width="1.3"/>
<path d="M863.1,273.0 A10.0,23.8 23.0 0 0 844.5,316.8" fill="none" stroke="#3a3a3a" stroke-width="1.3"/>
<path d="M875.3,278.1 A10.0,23.8 23.0 0 0 856.7,321.9" fill="none" stroke="#3a3a3a" stroke-width="1.3"/>
<path d="M887.4,283.3 A10.0,23.8 23.0 0 0 868.9,327.0" fill="none" stroke="#3a3a3a" stroke-width="1.3"/>
<path d="M899.6,288.5 A10.0,23.7 23.0 0 0 881.0,332.2" fill="none" stroke="#3a3a3a" stroke-width="1.3"/>
<path d="M911.7,293.7 A10.0,23.7 23.0 0 0 893.2,337.3" fill="none" stroke="#3a3a3a" stroke-width="1.3"/>
<path d="M923.8,298.9 A9.9,23.7 23.0 0 0 905.3,342.4" fill="none" stroke="#3a3a3a" stroke-width="1.3"/>
<path d="M936.0,304.0 A9.9,23.7 23.0 0 0 917.5,347.6" fill="none" stroke="#3a3a3a" stroke-width="1.3"/>
<line x1="827.5" y1="265.0" x2="955.2" y2="319.4" stroke="#3c3c3c" stroke-width="1.2" stroke-linecap="butt" />
<line x1="826.7" y1="275.6" x2="954.4" y2="329.9" stroke="#3c3c3c" stroke-width="1.2" stroke-linecap="butt" />
<line x1="822.2" y1="287.1" x2="950.0" y2="341.3" stroke="#3c3c3c" stroke-width="1.2" stroke-linecap="butt" />
<line x1="814.4" y1="296.3" x2="942.3" y2="350.4" stroke="#3c3c3c" stroke-width="1.2" stroke-linecap="butt" />
<path d="M951.6,310.3 L960.5,312.3 L940.5,359.5 L932.8,354.5Z" fill="url(#g27)" stroke="url(#g27)" stroke-width="0.6" stroke-linejoin="round" />
<line x1="954.0" y1="315.6" x2="960.8" y2="317.2" stroke="#3c3c3c" stroke-width="1" stroke-linecap="butt" />
<line x1="952.7" y1="320.1" x2="959.8" y2="322.2" stroke="#3c3c3c" stroke-width="1" stroke-linecap="butt" />
<line x1="951.1" y1="324.6" x2="958.3" y2="327.0" stroke="#3c3c3c" stroke-width="1" stroke-linecap="butt" />
<line x1="949.4" y1="329.0" x2="956.7" y2="331.7" stroke="#3c3c3c" stroke-width="1" stroke-linecap="butt" />
<line x1="947.6" y1="333.4" x2="954.8" y2="336.4" stroke="#3c3c3c" stroke-width="1" stroke-linecap="butt" />
<line x1="945.8" y1="337.7" x2="952.9" y2="341.0" stroke="#3c3c3c" stroke-width="1" stroke-linecap="butt" />
<line x1="943.8" y1="342.0" x2="950.7" y2="345.5" stroke="#3c3c3c" stroke-width="1" stroke-linecap="butt" />
<line x1="941.7" y1="346.3" x2="948.4" y2="349.9" stroke="#3c3c3c" stroke-width="1" stroke-linecap="butt" />
<line x1="939.5" y1="350.5" x2="945.7" y2="354.2" stroke="#3c3c3c" stroke-width="1" stroke-linecap="butt" />
<ellipse cx="950.5" cy="335.9" rx="11.3" ry="25.6" transform="rotate(23.0 950.5 335.9)" fill="#4c4c4c"/>
<ellipse cx="953.1" cy="337.0" rx="11.9" ry="25.8" transform="rotate(23.0 953.1 337.0)" fill="#5c5c5c" stroke="#707070" stroke-width="0.8"/>
<ellipse cx="954.5" cy="337.6" rx="9.8" ry="21.8" transform="rotate(23.0 954.5 337.6)" fill="#a0a0a0" stroke="#444" stroke-width="0.8"/>
<ellipse cx="952.9" cy="337.0" rx="8.0" ry="20.0" transform="rotate(23.0 952.9 337.0)" fill="#8a8a8a"/>
<ellipse cx="774.0" cy="315.7" rx="7.6" ry="13.2" transform="rotate(20.0 774.0 315.7)" fill="none" stroke="#8a8a8a" stroke-width="3.3"/>
<ellipse cx="774.0" cy="315.7" rx="7.6" ry="13.2" transform="rotate(20.0 774.0 315.7)" fill="none" stroke="#c4c4c4" stroke-width="1.4"/>
<ellipse cx="804.5" cy="329.3" rx="4.4" ry="11.0" transform="rotate(23.6 804.5 329.3)" fill="url(#g28)"/>
<path d="M808.9,319.2 L825.4,326.4 L816.6,346.6 L800.1,339.4Z" fill="url(#g28)" stroke="url(#g28)" stroke-width="0.6" stroke-linejoin="round" />
<ellipse cx="821.0" cy="336.5" rx="4.4" ry="11.0" transform="rotate(23.6 821.0 336.5)" fill="url(#g28)"/>
<ellipse cx="804.5" cy="329.3" rx="4.4" ry="11.0" transform="rotate(23.6 804.5 329.3)" fill="#96928c"/>
<path d="M824.0,329.5 L837.0,335.0 L831.0,349.0 L818.0,343.5Z" fill="url(#g29)" stroke="url(#g29)" stroke-width="0.6" stroke-linejoin="round" />
<ellipse cx="834.0" cy="342.0" rx="3.0" ry="7.6" transform="rotate(22.9 834.0 342.0)" fill="url(#g29)"/>
<ellipse cx="835.8" cy="343.4" rx="9.6" ry="17.2" transform="rotate(21.0 835.8 343.4)" fill="#55514d"/>
<ellipse cx="839.0" cy="344.8" rx="9.6" ry="17.2" transform="rotate(21.0 839.0 344.8)" fill="#6e6a66" stroke="#4a4642" stroke-width="0.6"/>
<ellipse cx="839.8" cy="345.2" rx="6.6" ry="12.0" transform="rotate(21.0 839.8 345.2)" fill="#bcb8b4" stroke="#666" stroke-width="0.6"/>
<ellipse cx="840.2" cy="345.4" rx="4.2" ry="7.8" transform="rotate(21.0 840.2 345.4)" fill="#454341"/>
<ellipse cx="858.0" cy="350.8" rx="2.4" ry="6.1" transform="rotate(23.0 858.0 350.8)" fill="url(#g30)"/>
<path d="M860.4,345.2 L915.4,368.6 L910.6,379.8 L855.6,356.4Z" fill="url(#g30)" stroke="url(#g30)" stroke-width="0.6" stroke-linejoin="round" />
<ellipse cx="913.0" cy="374.2" rx="2.4" ry="6.1" transform="rotate(23.0 913.0 374.2)" fill="url(#g30)"/>
<ellipse cx="858.0" cy="350.8" rx="2.4" ry="6.1" transform="rotate(23.0 858.0 350.8)" fill="#d6cec6"/>
<ellipse cx="917.2" cy="376.4" rx="7.2" ry="12.4" transform="rotate(23.0 917.2 376.4)" fill="#b4aca4"/>
<ellipse cx="919.8" cy="377.6" rx="8.0" ry="12.8" transform="rotate(23.0 919.8 377.6)" fill="#c6beb6" stroke="#9a928a" stroke-width="0.6"/>
<ellipse cx="922.2" cy="379.2" rx="2.8" ry="4.2" transform="rotate(23.0 922.2 379.2)" fill="#807870"/>
<path d="M414.4,314.4 L424,303.6 L478,252 L484,250.1 L494.8,255.6 L500.8,261.6 L505.6,271.2 L503.2,288 L497.2,296.4 L445.6,328.8 L436,336 L426.4,338.4 L418,334.8 L413.2,328.8Z" fill="#666666" stroke="#666666" stroke-width="0.6" />
<path d="M414.4,314.4 L424,303.6 L430,305 L424,312 L421.6,321.6 L424,332.4 L426.4,338.4 L418,334.8 L413.2,328.8Z" fill="#5a5a5a" stroke="#5a5a5a" stroke-width="0.6" />
<path d="M439.6,300 L481.6,262.8 L492.4,258 L499.6,260.4 L505.6,271.2 L503.2,288 L497.2,296.4 L445.6,328.8 L436,336 L426.4,338.4 L424,332.4 L421.6,321.6 L424,312 L430,305Z" fill="#494949" stroke="#494949" stroke-width="0.6" />
<path d="M445.6,297.6 L482.8,264" fill="none" stroke="#3a3a3a" stroke-width="5.6" stroke-linecap="round"/>
<path d="M446.6,298.2 L483.4,264.8" fill="none" stroke="#858585" stroke-width="3" stroke-linecap="round"/>
<ellipse cx="492.4" cy="268.8" rx="6.0" ry="7.6" transform="rotate(20.0 492.4 268.8)" fill="#2e2e2e"/>
<ellipse cx="493.6" cy="269.2" rx="4.4" ry="6.2" transform="rotate(20.0 493.6 269.2)" fill="#707070"/>
<ellipse cx="491.8" cy="268.8" rx="3.8" ry="6.0" transform="rotate(20.0 491.8 268.8)" fill="#3c3c3c"/>
<ellipse cx="497.2" cy="284.4" rx="6.0" ry="7.6" transform="rotate(20.0 497.2 284.4)" fill="#2e2e2e"/>
<ellipse cx="498.4" cy="284.8" rx="4.4" ry="6.2" transform="rotate(20.0 498.4 284.8)" fill="#707070"/>
<ellipse cx="496.6" cy="284.4" rx="3.8" ry="6.0" transform="rotate(20.0 496.6 284.4)" fill="#3c3c3c"/>
<ellipse cx="433.6" cy="321.6" rx="3.4" ry="4.8" transform="rotate(20.0 433.6 321.6)" fill="#2c2c2c"/>
<ellipse cx="434.2" cy="321.9" rx="2.0" ry="3.2" transform="rotate(20.0 434.2 321.9)" fill="#707070"/>
<ellipse cx="436.0" cy="309.6" rx="1.1" ry="1.5" transform="rotate(20.0 436.0 309.6)" fill="#2a2a2a"/>
<ellipse cx="442.0" cy="309.6" rx="1.1" ry="1.5" transform="rotate(20.0 442.0 309.6)" fill="#2a2a2a"/>
<ellipse cx="442.0" cy="322.8" rx="1.1" ry="1.5" transform="rotate(20.0 442.0 322.8)" fill="#2a2a2a"/>
<ellipse cx="428.8" cy="330.0" rx="1.1" ry="1.5" transform="rotate(20.0 428.8 330.0)" fill="#2a2a2a"/>
<ellipse cx="371.4" cy="294.6" rx="2.0" ry="5.0" transform="rotate(23.0 371.4 294.6)" fill="url(#g31)"/>
<path d="M373.3,290.0 L386.2,295.5 L382.3,304.7 L369.4,299.2Z" fill="url(#g31)" stroke="url(#g31)" stroke-width="0.6" stroke-linejoin="round" />
<ellipse cx="384.2" cy="300.1" rx="2.0" ry="5.0" transform="rotate(23.0 384.2 300.1)" fill="#bdbdb8"/>
<path d="M366.0,279.5 C370.0,284.5 373.0,288.5 376.0,290.5 L372.0,300.5 C368.0,301.0 364.0,302.0 361.0,303.5Z" fill="#969692" stroke="#74746f" stroke-width="0.5" />
<ellipse cx="363.4" cy="291.5" rx="3.6" ry="12.0" transform="rotate(20.0 363.4 291.5)" fill="#b0b0ab" stroke="#80807c" stroke-width="0.5"/>
<ellipse cx="451.8" cy="356.2" rx="1.7" ry="4.3" transform="rotate(23.0 451.8 356.2)" fill="url(#g32)"/>
<path d="M453.5,352.2 L464.6,356.9 L461.2,364.8 L450.2,360.1Z" fill="url(#g32)" stroke="url(#g32)" stroke-width="0.6" stroke-linejoin="round" />
<ellipse cx="462.9" cy="360.9" rx="1.7" ry="4.3" transform="rotate(23.0 462.9 360.9)" fill="#bdbdb8"/>
<path d="M447.2,343.2 C450.7,347.5 453.2,350.9 455.8,352.6 L452.4,361.2 C448.9,361.7 445.5,362.5 442.9,363.8Z" fill="#969692" stroke="#74746f" stroke-width="0.5" />
<ellipse cx="445.0" cy="353.5" rx="3.1" ry="10.3" transform="rotate(20.0 445.0 353.5)" fill="#b0b0ab" stroke="#80807c" stroke-width="0.5"/>
<path d="M483.8,357.7 L487.5,341 L495,331.7 L503.3,328 L511.6,330.8 L517.2,337.3 L518.1,348.4 L514.4,359.5 L509.8,370.7 L504.2,381.8 L495,392 L485.7,393 L479.2,387.4 L477.3,378 L480,368.8Z" fill="#505050" stroke="#505050" stroke-width="0.6" />
<path d="M483.8,357.7 L487.5,341 L495,331.7 L503.3,328 L511.6,330.8 L512.6,332.6 L504.2,335.4 L497.7,344.7 L494,357.7 L488,372 L480,368.8Z" fill="#5e5e5e" stroke="#5e5e5e" stroke-width="0.6" />
<path d="M494,358.6 L497.7,344.7 L504.2,335.4 L512.6,332.6 L517.2,338.2 L518.1,348.4 L514.4,359.5 L506,360.5 L499.6,363.2Z" fill="#8a8fa1" stroke="#8a8fa1" stroke-width="0.6" />
<ellipse cx="506.0" cy="352.1" rx="2.0" ry="2.8" transform="rotate(20.0 506.0 352.1)" fill="#4a4e5c"/>
<ellipse cx="499.6" cy="374.8" rx="7.6" ry="13.6" transform="rotate(24.0 499.6 374.8)" fill="url(#g33)" stroke="#666" stroke-width="0.6"/>
<ellipse cx="495.5" cy="375.0" rx="3.2" ry="5.0" transform="rotate(24.0 495.5 375.0)" fill="#2a2a2a" stroke="#707070" stroke-width="0.5"/>
<ellipse cx="569.5" cy="302.9" rx="2.2" ry="5.6" transform="rotate(21.0 569.5 302.9)" fill="url(#g34)"/>
<path d="M571.5,297.7 L589.5,304.6 L585.5,315.0 L567.5,308.1Z" fill="url(#g34)" stroke="url(#g34)" stroke-width="0.6" stroke-linejoin="round" />
<ellipse cx="587.5" cy="309.8" rx="2.2" ry="5.6" transform="rotate(21.0 587.5 309.8)" fill="url(#g34)"/>
<ellipse cx="569.5" cy="302.9" rx="2.2" ry="5.6" transform="rotate(21.0 569.5 302.9)" fill="#d8d0c8"/>
<path d="M586.0,303.9 L598.5,303.1 L594.5,323.9 L584.5,314.4Z" fill="#b4aca4" stroke="#b4aca4" stroke-width="0.6" />
<ellipse cx="595.1" cy="313.1" rx="5.6" ry="10.6" transform="rotate(20.0 595.1 313.1)" fill="#a09890"/>
<ellipse cx="596.7" cy="313.6" rx="5.8" ry="10.6" transform="rotate(20.0 596.7 313.6)" fill="#c2bab2" stroke="#908880" stroke-width="0.7"/>
<ellipse cx="597.1" cy="313.8" rx="2.4" ry="4.0" transform="rotate(20.0 597.1 313.8)" fill="#6e665e"/>
<ellipse cx="597.4" cy="313.9" rx="1.0" ry="1.8" transform="rotate(20.0 597.4 313.9)" fill="#c8c0b8"/>
<ellipse cx="573.8" cy="319.5" rx="2.2" ry="5.6" transform="rotate(21.0 573.8 319.5)" fill="url(#g35)"/>
<path d="M575.8,314.3 L593.8,321.2 L589.8,331.6 L571.8,324.7Z" fill="url(#g35)" stroke="url(#g35)" stroke-width="0.6" stroke-linejoin="round" />
<ellipse cx="591.8" cy="326.4" rx="2.2" ry="5.6" transform="rotate(21.0 591.8 326.4)" fill="url(#g35)"/>
<ellipse cx="573.8" cy="319.5" rx="2.2" ry="5.6" transform="rotate(21.0 573.8 319.5)" fill="#d8d0c8"/>
<path d="M590.3,320.5 L602.8,319.7 L598.8,340.5 L588.8,331.0Z" fill="#b4aca4" stroke="#b4aca4" stroke-width="0.6" />
<ellipse cx="599.4" cy="329.7" rx="5.6" ry="10.6" transform="rotate(20.0 599.4 329.7)" fill="#a09890"/>
<ellipse cx="601.0" cy="330.2" rx="5.8" ry="10.6" transform="rotate(20.0 601.0 330.2)" fill="#c2bab2" stroke="#908880" stroke-width="0.7"/>
<ellipse cx="601.4" cy="330.4" rx="2.4" ry="4.0" transform="rotate(20.0 601.4 330.4)" fill="#6e665e"/>
<ellipse cx="601.7" cy="330.5" rx="1.0" ry="1.8" transform="rotate(20.0 601.7 330.5)" fill="#c8c0b8"/>
<ellipse cx="531.6" cy="411.0" rx="3.6" ry="2.2" transform="rotate(20.0 531.6 411.0)" fill="#bcbcbc" stroke="#808080" stroke-width="0.5"/>
<ellipse cx="529.5" cy="392.0" rx="6.9" ry="16.5" transform="rotate(21.4 529.5 392.0)" fill="url(#g36)"/>
<path d="M535.5,376.6 L570.0,390.1 L558.0,420.9 L523.5,407.4Z" fill="url(#g36)" stroke="url(#g36)" stroke-width="0.6" stroke-linejoin="round" />
<ellipse cx="564.0" cy="405.5" rx="6.9" ry="16.5" transform="rotate(21.4 564.0 405.5)" fill="url(#g36)"/>
<ellipse cx="529.5" cy="392.0" rx="6.9" ry="16.5" transform="rotate(21.4 529.5 392.0)" fill="#545454"/>
<path d="M570.6,389.6 L588.6,397.1 L575.4,428.9 L557.4,421.4Z" fill="url(#g37)" stroke="url(#g37)" stroke-width="0.6" stroke-linejoin="round" />
<ellipse cx="582.0" cy="413.0" rx="7.2" ry="17.2" transform="rotate(22.6 582.0 413.0)" fill="url(#g37)"/>
<path d="M588.1,398.2 L602.1,404.0 L589.9,433.6 L575.9,427.8Z" fill="url(#g38)" stroke="url(#g38)" stroke-width="0.6" stroke-linejoin="round" />
<ellipse cx="596.0" cy="418.8" rx="6.7" ry="16.0" transform="rotate(22.5 596.0 418.8)" fill="url(#g38)"/>
<path d="M571.4,390.6 A6.6,16.6 21 0 0 558.6,421.4" fill="none" stroke="#4c4c4c" stroke-width="0.8"/>
<path d="M575.7,392.4 A6.6,16.6 21 0 0 562.9,423.2" fill="none" stroke="#4c4c4c" stroke-width="0.8"/>
<path d="M580.0,394.1 A6.6,16.6 21 0 0 567.2,424.9" fill="none" stroke="#4c4c4c" stroke-width="0.8"/>
<path d="M584.3,395.9 A6.6,16.6 21 0 0 571.5,426.7" fill="none" stroke="#4c4c4c" stroke-width="0.8"/>
<path d="M588.5,397.7 A6.6,16.6 21 0 0 575.7,428.5" fill="none" stroke="#4c4c4c" stroke-width="0.8"/>
<path d="M592.8,399.5 A6.6,16.6 21 0 0 580.0,430.3" fill="none" stroke="#4c4c4c" stroke-width="0.8"/>
<path d="M597.1,401.2 A6.6,16.6 21 0 0 584.3,432.0" fill="none" stroke="#4c4c4c" stroke-width="0.8"/>
<path d="M600.9,406.8 L609.4,410.3 L599.6,434.3 L591.1,430.8Z" fill="url(#g39)" stroke="url(#g39)" stroke-width="0.6" stroke-linejoin="round" />
<ellipse cx="604.5" cy="422.3" rx="5.9" ry="13.0" transform="rotate(22.4 604.5 422.3)" fill="#353535" stroke="#4a4a4a" stroke-width="0.6"/>
<ellipse cx="605.2" cy="422.6" rx="3.6" ry="7.6" transform="rotate(21.0 605.2 422.6)" fill="#272727"/>
<path d="M536,396 L541,388 L556,394 L553,410 L540,406Z" fill="#444" stroke="#363636" stroke-width="0.6" />
<ellipse cx="543.6" cy="402.0" rx="3.8" ry="4.2" transform="rotate(0.0 543.6 402.0)" fill="#c6c6c6" stroke="#777" stroke-width="0.6"/>
<path d="M547,380 L565,387 L564,391 L546,384Z" fill="#2e2e2e" stroke="#2e2e2e" stroke-width="0.6" />
<line x1="80.8" y1="231.5" x2="114.0" y2="266.6" stroke="#000" stroke-width="4.75" stroke-linecap="butt" />
<line x1="262.5" y1="116.0" x2="303.5" y2="154.0" stroke="#000" stroke-width="4.75" stroke-linecap="butt" />
<line x1="377.5" y1="60.0" x2="397.5" y2="91.0" stroke="#000" stroke-width="4.75" stroke-linecap="butt" />
<line x1="382.5" y1="75.0" x2="366.5" y2="85.0" stroke="#000" stroke-width="4.75" stroke-linecap="butt" />
<line x1="451.0" y1="65.0" x2="475.3" y2="171.5" stroke="#000" stroke-width="4.75" stroke-linecap="butt" />
<line x1="481.0" y1="95.0" x2="505.0" y2="190.0" stroke="#000" stroke-width="4.75" stroke-linecap="butt" />
<line x1="402.5" y1="216.0" x2="260.0" y2="280.5" stroke="#000" stroke-width="4.75" stroke-linecap="butt" />
<line x1="589.5" y1="54.0" x2="542.0" y2="162.5" stroke="#000" stroke-width="4.75" stroke-linecap="butt" />
<line x1="789.5" y1="42.5" x2="847.0" y2="100.0" stroke="#000" stroke-width="4.75" stroke-linecap="butt" />
<line x1="703.0" y1="87.5" x2="684.5" y2="129.0" stroke="#000" stroke-width="4.75" stroke-linecap="butt" />
<line x1="773.0" y1="109.0" x2="773.0" y2="137.5" stroke="#000" stroke-width="4.75" stroke-linecap="butt" />
<line x1="939.5" y1="160.0" x2="899.5" y2="199.0" stroke="#000" stroke-width="4.75" stroke-linecap="butt" />
<line x1="982.0" y1="220.0" x2="907.0" y2="300.0" stroke="#000" stroke-width="4.75" stroke-linecap="butt" />
<line x1="264.0" y1="327.5" x2="231.0" y2="351.5" stroke="#000" stroke-width="4.75" stroke-linecap="butt" />
<line x1="308.5" y1="349.0" x2="252.5" y2="366.5" stroke="#000" stroke-width="4.75" stroke-linecap="butt" />
<line x1="234.0" y1="394.0" x2="336.0" y2="369.0" stroke="#000" stroke-width="4.75" stroke-linecap="butt" />
<line x1="285.0" y1="399.0" x2="380.0" y2="391.5" stroke="#000" stroke-width="4.75" stroke-linecap="butt" />
<line x1="291.0" y1="416.5" x2="435.0" y2="416.5" stroke="#000" stroke-width="4.75" stroke-linecap="butt" />
<line x1="293.5" y1="434.0" x2="485.0" y2="443.0" stroke="#000" stroke-width="4.75" stroke-linecap="butt" />
<line x1="344.0" y1="316.5" x2="359.0" y2="303.0" stroke="#000" stroke-width="4.75" stroke-linecap="butt" />
<line x1="372.5" y1="340.0" x2="412.5" y2="321.5" stroke="#000" stroke-width="4.75" stroke-linecap="butt" />
<line x1="427.5" y1="363.0" x2="440.0" y2="356.5" stroke="#000" stroke-width="4.75" stroke-linecap="butt" />
<line x1="459.0" y1="389.0" x2="480.0" y2="374.0" stroke="#000" stroke-width="4.75" stroke-linecap="butt" />
<line x1="495.0" y1="404.0" x2="569.5" y2="323.5" stroke="#000" stroke-width="4.75" stroke-linecap="butt" />
<line x1="533.5" y1="433.0" x2="546.0" y2="411.0" stroke="#000" stroke-width="4.75" stroke-linecap="butt" />
<line x1="751.0" y1="368.0" x2="769.5" y2="326.5" stroke="#000" stroke-width="4.75" stroke-linecap="butt" />
<line x1="788.0" y1="396.5" x2="812.0" y2="346.5" stroke="#000" stroke-width="4.75" stroke-linecap="butt" />
<line x1="842.0" y1="434.0" x2="873.0" y2="371.5" stroke="#000" stroke-width="4.75" stroke-linecap="butt" />
<path d="M224,304 L209,348 L230.5,352.5 C252,364 272,382 285,401 C290,412 293,424 293.5,436" fill="none" stroke="#000" stroke-width="5" stroke-linejoin="miter"/>
<text x="340.5" y="41.0" text-anchor="middle" font-size="15.1">OEM Bolt</text>
<text x="340.0" y="56.5" text-anchor="middle" font-size="15.1">and Hiem Joint</text>
<text x="424.0" y="56.8" text-anchor="start" font-size="15.1">04-WA8Z</text>
<text x="471.5" y="91.0" text-anchor="start" font-size="15.1">OEM O-ring</text>
<text x="204.0" y="115.0" text-anchor="start" font-size="15.1">07-0658</text>
<text x="11.0" y="220.2" text-anchor="start" font-size="15.1">OEM Shift Rod</text>
<text x="552.0" y="50.0" text-anchor="start" font-size="15.1">04-FH1035Z</text>
<text x="735.5" y="32.5" text-anchor="start" font-size="15.1">05-0640HGS</text>
<text x="677.0" y="81.5" text-anchor="start" font-size="15.1">05-0655L</text>
<text x="733.5" y="102.5" text-anchor="start" font-size="15.1">04-SP14B</text>
<text x="926.3" y="151.2" text-anchor="start" font-size="15.1">04-BH625Z</text>
<text x="961.0" y="211.5" text-anchor="start" font-size="15.1">06-4801</text>
<text x="204.0" y="298.0" text-anchor="start" font-size="15.1">08-0655P</text>
<text x="263.5" y="320.5" text-anchor="start" font-size="15.1">04-FH614Z</text>
<text x="312.5" y="349.0" text-anchor="start" font-size="15.1">08-4620</text>
<text x="345.0" y="370.0" text-anchor="start" font-size="15.1">04-FH612Z</text>
<text x="173.5" y="400.5" text-anchor="start" font-size="15.1">08-0655</text>
<text x="389.0" y="397.5" text-anchor="start" font-size="15.1">08-7099E</text>
<text x="444.2" y="421.2" text-anchor="start" font-size="15.1">04-FH620</text>
<text x="496.6" y="445.8" text-anchor="start" font-size="15.1">08-7099</text>
<text x="680.5" y="381.5" text-anchor="start" font-size="15.1">OEM O-ring</text>
<text x="708.5" y="411.5" text-anchor="start" font-size="15.1">05-0655SP</text>
<text x="758.5" y="444.0" text-anchor="start" font-size="15.1">04-BH840Z</text>
</svg>
</body></html>
